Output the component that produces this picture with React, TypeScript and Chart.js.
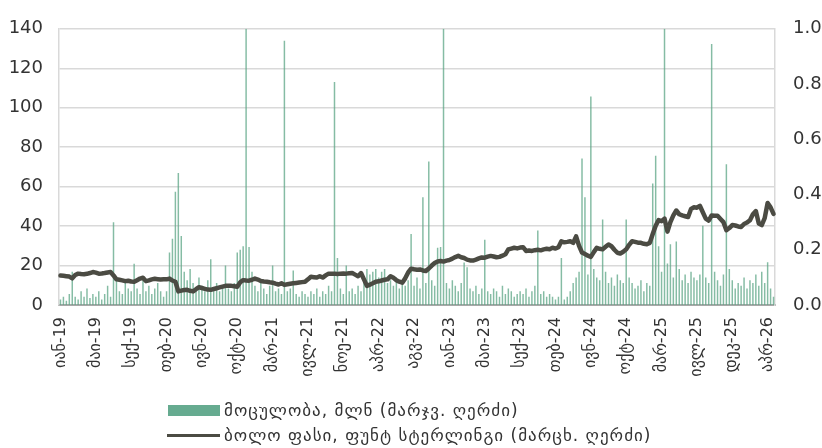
import React, { useEffect, useRef } from 'react';
import { Chart, registerables } from 'chart.js';

Chart.register(...registerables);

const tickLabels = ['იან-19','მაი-19','სექ-19','თებ-20','ივნ-20','ოქტ-20','მარ-21','ივლ-21','ნოე-21','აპრ-22','აგვ-22','იან-23','მაი-23','სექ-23','თებ-24','ივნ-24','ოქტ-24','მარ-25','ივლ-25','დეკ-25','აპრ-26'];

const volumeLabel = 'მოცულობა, მლნ (მარჯვ. ღერძი)';
const priceLabel = 'ბოლო ფასი, ფუნტ სტერლინგი (მარცხ. ღერძი)';

// closing price (left axis), one point per step, 12 steps between month labels
const price = [
  14.9,14.8,14.6,14.4,13.5,15.2,15.9,15.7,15.6,15.8,16.2,16.7,
  16.4,15.9,16.0,16.2,16.5,16.7,15.0,13.0,12.8,12.5,12.1,12.3,
  11.9,11.8,12.6,13.4,13.8,12.1,12.5,13.0,13.3,13.1,12.9,13.0,
  13.0,13.4,12.4,11.8,6.9,7.3,7.6,7.7,7.2,6.9,8.0,9.0,
  8.6,8.2,7.8,7.7,8.1,8.5,8.9,9.3,9.7,9.8,9.7,9.5,
  9.3,11.5,12.6,12.4,12.3,12.8,13.4,12.9,12.2,11.9,11.8,11.5,
  11.3,10.8,10.4,11.0,10.2,10.5,10.8,11.0,11.2,11.4,11.6,11.8,
  13.0,14.3,14.1,13.9,14.6,13.9,15.0,15.9,15.8,15.9,15.7,15.9,
  16.0,15.9,16.1,16.2,15.4,14.6,16.2,13.0,9.7,10.3,11.0,11.8,
  12.0,12.4,12.8,13.0,14.6,13.8,12.6,11.8,11.3,13.5,16.5,18.4,
  18.1,17.9,18.0,17.5,17.2,18.5,20.0,21.3,22.1,22.3,22.0,22.5,
  22.8,23.5,24.3,24.9,24.2,23.8,23.0,22.6,22.5,23.0,23.6,24.1,
  24.0,24.5,24.9,24.6,24.2,24.4,25.0,25.7,28.2,28.6,29.0,28.7,
  29.1,29.3,27.4,27.6,27.4,27.8,28.0,27.7,28.2,28.5,28.3,29.0,
  28.6,29.3,32.3,31.8,32.0,32.3,31.5,34.8,30.0,26.6,25.8,25.0,
  24.4,26.8,29.0,28.5,28.2,29.5,30.7,29.8,28.0,26.5,26.1,27.0,
  28.2,30.5,32.3,32.0,31.6,31.5,31.0,30.8,31.5,36.0,40.2,43.0,
  42.5,43.8,37.2,42.0,45.4,47.9,46.0,45.4,45.0,44.6,48.7,49.5,
  49.3,50.3,47.0,43.8,42.8,45.4,45.2,45.2,43.6,42.0,37.9,39.0,
  40.5,40.3,39.8,39.5,41.1,41.8,43.0,46.0,47.6,41.3,40.5,44.0,
  51.7,49.5,46.2
];

// volume in millions (right axis)
const volume = [
  0.02,0.03,0.015,0.04,0.12,0.03,0.02,0.05,0.03,0.06,0.025,0.04,
  0.03,0.05,0.02,0.04,0.07,0.03,0.30,0.10,0.05,0.04,0.08,0.06,
  0.05,0.149,0.06,0.04,0.09,0.05,0.07,0.04,0.06,0.08,0.05,0.03,
  0.05,0.19,0.24,0.41,0.478,0.25,0.12,0.09,0.13,0.08,0.06,0.10,
  0.07,0.05,0.09,0.166,0.06,0.08,0.05,0.07,0.143,0.06,0.05,0.08,
  0.19,0.2,0.213,1.0,0.21,0.12,0.07,0.05,0.08,0.06,0.04,0.07,
  0.143,0.05,0.06,0.04,0.957,0.05,0.06,0.125,0.04,0.03,0.05,0.04,
  0.03,0.05,0.04,0.06,0.03,0.05,0.04,0.07,0.05,0.807,0.17,0.06,
  0.04,0.143,0.05,0.06,0.04,0.07,0.05,0.09,0.13,0.11,0.12,0.13,
  0.10,0.12,0.13,0.08,0.09,0.07,0.10,0.06,0.08,0.07,0.09,0.257,
  0.07,0.10,0.06,0.39,0.08,0.52,0.09,0.07,0.207,0.21,1.0,0.08,
  0.06,0.09,0.07,0.05,0.08,0.154,0.137,0.06,0.05,0.07,0.04,0.06,
  0.236,0.05,0.04,0.06,0.05,0.03,0.07,0.04,0.06,0.05,0.03,0.04,
  0.05,0.04,0.06,0.03,0.05,0.07,0.27,0.04,0.05,0.03,0.04,0.03,
  0.02,0.03,0.17,0.02,0.03,0.05,0.08,0.10,0.12,0.53,0.39,0.11,
  0.755,0.13,0.10,0.09,0.31,0.12,0.08,0.10,0.07,0.11,0.09,0.08,
  0.31,0.10,0.08,0.06,0.07,0.09,0.05,0.08,0.07,0.44,0.54,0.213,
  0.12,1.0,0.15,0.22,0.10,0.23,0.13,0.09,0.11,0.08,0.12,0.10,
  0.09,0.11,0.287,0.10,0.08,0.945,0.12,0.09,0.07,0.11,0.51,0.13,
  0.09,0.06,0.08,0.07,0.10,0.06,0.09,0.08,0.11,0.07,0.12,0.08,
  0.155,0.06,0.03
];

const STEP = 12;
const categories = price.map((_, i) => (i % STEP === 0 ? tickLabels[i / STEP] : ''));

const BAR_COLOR = 'rgba(92,165,134,0.75)';
const LEGEND_BAR = '#66ab90';
const LINE_COLOR = '#4b4b43';
const FONT = '"DejaVu Sans", sans-serif';

export default function App() {
  const ref = useRef<HTMLCanvasElement | null>(null);

  useEffect(() => {
    if (!ref.current) return;
    const chart = new Chart(ref.current, {
      type: 'bar',
      data: {
        labels: categories,
        datasets: [
          {
            type: 'bar',
            label: volumeLabel,
            data: volume,
            yAxisID: 'y1',
            backgroundColor: BAR_COLOR,
            borderWidth: 0,
            barPercentage: 0.5,
            categoryPercentage: 1,
            order: 1,
          },
          {
            type: 'line',
            label: priceLabel,
            data: price,
            yAxisID: 'y',
            borderColor: LINE_COLOR,
            borderWidth: 4.5,
            borderJoinStyle: 'round',
            borderCapStyle: 'round',
            pointRadius: 0,
            tension: 0,
            order: 0,
          },
        ],
      } as any,
      options: {
        responsive: false,
        animation: false,
        layout: { padding: { top: 20, left: 0, right: 0, bottom: 0 } },
        plugins: { legend: { display: false }, tooltip: { enabled: false } },
        scales: {
          x: {
            grid: { display: false, drawTicks: false },
            border: { display: true, color: '#a8a8a8', width: 2 },
            ticks: {
              autoSkip: false,
              minRotation: 90,
              maxRotation: 90,
              padding: 12,
              color: '#333333',
              font: { family: FONT, size: 16 },
              callback: (_v: any, i: number) => (i % STEP === 0 ? tickLabels[i / STEP] : null),
            },
            afterFit: (s: any) => { s.height = 143; },
          },
          y: {
            position: 'left',
            min: 0,
            max: 140,
            ticks: { stepSize: 20, padding: 16, color: '#333333', font: { family: FONT, size: 18 } },
            grid: { color: '#d9d9d9', lineWidth: 1.5, drawTicks: false },
            border: { display: true, color: '#d9d9d9', width: 1.5 },
            afterFit: (s: any) => { s.width = 59; },
          },
          y1: {
            position: 'right',
            min: 0,
            max: 1,
            ticks: {
              stepSize: 0.2,
              padding: 18,
              color: '#333333',
              font: { family: FONT, size: 18 },
              callback: (v: any) => Number(v).toFixed(1),
            },
            grid: { display: false, drawTicks: false },
            border: { display: true, color: '#d9d9d9', width: 1.5 },
            afterFit: (s: any) => { s.width = 67; },
          },
        },
      } as any,
    });
    return () => chart.destroy();
  }, []);

  const textStyle: React.CSSProperties = {
    fontFamily: FONT,
    fontSize: 17,
    letterSpacing: 1,
    color: '#333333',
    whiteSpace: 'nowrap',
    marginLeft: 4,
  };

  return (
    <div style={{ position: 'fixed', left: 0, top: 0, width: 822, height: 448, overflow: 'hidden', background: '#ffffff' }}>
      <canvas ref={ref} width={842} height={448} style={{ position: 'absolute', left: 0, top: 0 }} />
      <div style={{ position: 'absolute', left: 168, top: 399, display: 'flex', alignItems: 'center', height: 22 }}>
        <div style={{ width: 52, height: 11, background: LEGEND_BAR }} />
        <span style={textStyle}>{volumeLabel}</span>
      </div>
      <div style={{ position: 'absolute', left: 167, top: 424, display: 'flex', alignItems: 'center', height: 22 }}>
        <div style={{ width: 53, height: 3, background: LINE_COLOR }} />
        <span style={textStyle}>{priceLabel}</span>
      </div>
    </div>
  );
}
